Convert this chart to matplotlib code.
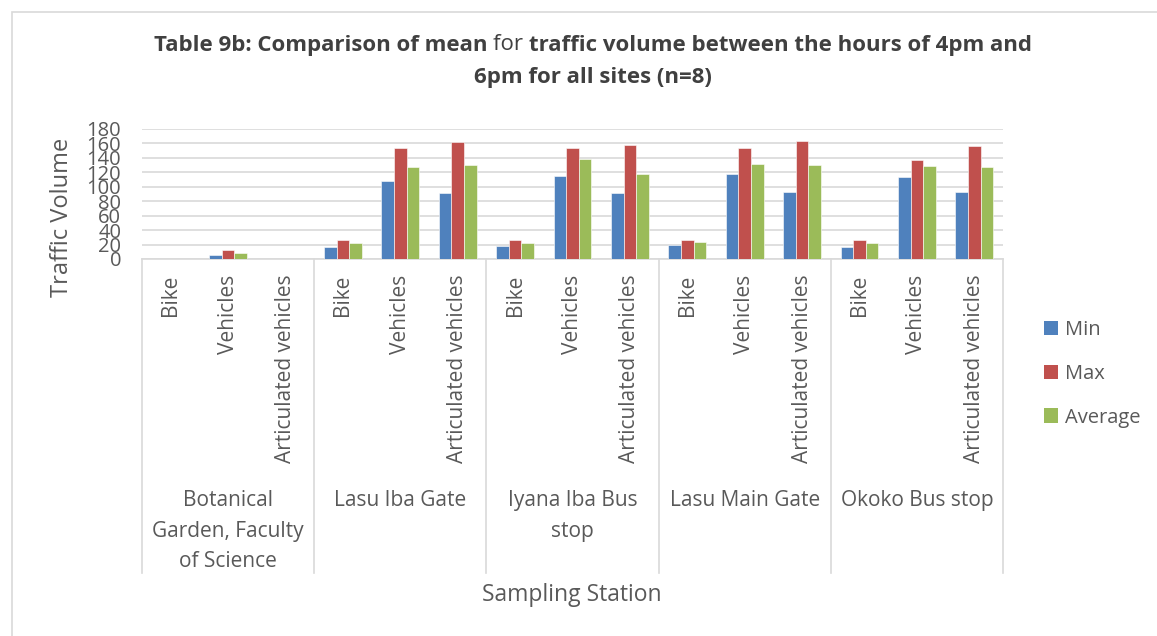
import matplotlib
matplotlib.use("Agg")
import matplotlib.pyplot as plt
from matplotlib.patches import Rectangle, Patch

plt.rcParams['font.family'] = ['Open Sans', 'DejaVu Sans']

stations = ["Botanical\nGarden, Faculty\nof Science", "Lasu Iba Gate", "Iyana Iba Bus\nstop",
            "Lasu Main Gate", "Okoko Bus stop"]
vehicle_types = ["Bike", "Vehicles", "Articulated vehicles"]
series_names = ["Min", "Max", "Average"]
min_vals = [0, 6, 0, 17, 108, 91, 18, 115, 91, 20, 117, 93, 17, 114, 93]
max_vals = [0, 12, 0, 27, 154, 162, 27, 153, 158, 26, 154, 163, 26, 137, 157]
avg_vals = [0, 8, 0, 22, 128, 130, 22, 139, 118, 23, 132, 130, 22, 129, 128]
y_ticks = [0, 20, 40, 60, 80, 100, 120, 140, 160, 180]
colors = ["#4F81BD", "#C0504D", "#9BBB59"]

W, H = 1157, 636
fig = plt.figure(figsize=(W / 100, H / 100), dpi=100)
fig.patch.set_facecolor("white")
TXT = "#595959"

# outer chart border
fig.add_artist(Rectangle((12 / W, -0.1), 1.2, 1 - 12 / H + 0.1, transform=fig.transFigure,
                         fill=False, edgecolor="#D9D9D9", linewidth=1.2))

x0, x1, ytop, ybot = 142, 1003, 129, 259
ax = fig.add_axes([x0 / W, 1 - ybot / H, (x1 - x0) / W, (ybot - ytop) / H])
n = len(min_vals)
bw = 0.22
for k, (vals, c) in enumerate(zip([min_vals, max_vals, avg_vals], colors)):
    xs = [i + (k - 1) * bw for i in range(n)]
    ax.bar(xs, vals, width=bw, color=c, edgecolor="white", linewidth=0.4, zorder=3,
           label=series_names[k])
ax.set_xlim(-0.5, n - 0.5)
ax.set_ylim(0, 180)
ax.set_yticks(y_ticks)
ax.set_yticklabels([str(t) for t in y_ticks], fontsize=14.5, color=TXT)
ax.tick_params(axis="y", length=0, pad=15)
ax.set_xticks([])
ax.yaxis.grid(True, color="#D9D9D9", linewidth=1.2, zorder=0)
for s in ["top", "right", "left"]:
    ax.spines[s].set_visible(False)
ax.spines["bottom"].set_color("#D9D9D9")
ax.spines["bottom"].set_linewidth(1.2)

# category labels
for i in range(n):
    ax.annotate(vehicle_types[i % 3], xy=(i, 0), xycoords="data", xytext=(0, -11),
                textcoords="offset points", rotation=90, ha="center", va="top",
                fontsize=15, color=TXT, annotation_clip=False)
for g, name in enumerate(stations):
    cx = g * 3 + 1
    ax.annotate(name, xy=(cx, 0), xycoords="data", xytext=(0, -(490 - ybot) * 0.72),
                textcoords="offset points", ha="center", va="top", fontsize=15,
                color=TXT, linespacing=1.6, annotation_clip=False)
# group separators
for b in range(len(stations) + 1):
    xb = b * 3 - 0.5
    ax.plot([xb, xb], [0, -(573 - ybot) / (ybot - ytop) * 180], color="#D9D9D9",
            linewidth=1.2, clip_on=False, zorder=1)

# axis titles
fig.text(62.5 / W, 1 - 217.5 / H, "Traffic Volume", rotation=90, ha="center", va="center",
         fontsize=17, color=TXT)
fig.text(572 / W, 1 - 595 / H, "Sampling Station", ha="center", va="center",
         fontsize=16.5, color=TXT)

# title with mixed weights
fig.canvas.draw()
renderer = fig.canvas.get_renderer()
title_lines = [
    [("Table 9b: Comparison of mean ", "bold"), ("for ", "normal"),
     ("traffic volume between the hours of 4pm and", "bold")],
    [("6pm for all sites (n=8)", "bold")],
]
ys = [45, 77]
for parts, yy in zip(title_lines, ys):
    texts = [fig.text(0, 1 - yy / H, t, fontsize=16, fontweight=w, color="#404040",
                      va="center", ha="left") for t, w in parts]
    widths = [t.get_window_extent(renderer).width for t in texts]
    total = sum(widths)
    start = 593 - total / 2
    for t, wd in zip(texts, widths):
        t.set_x(start / W)
        start += wd

handles = [Patch(facecolor=c, edgecolor="none") for c in colors]
fig.legend(handles, series_names, loc="upper left", bbox_to_anchor=(1036 / W, 1 - 312 / H),
           frameon=False, fontsize=14.5, handlelength=0.7, handleheight=0.7,
           labelspacing=1.18, handletextpad=0.35, labelcolor=TXT, borderaxespad=0)

fig.savefig("out.png", dpi=100, facecolor="white")
